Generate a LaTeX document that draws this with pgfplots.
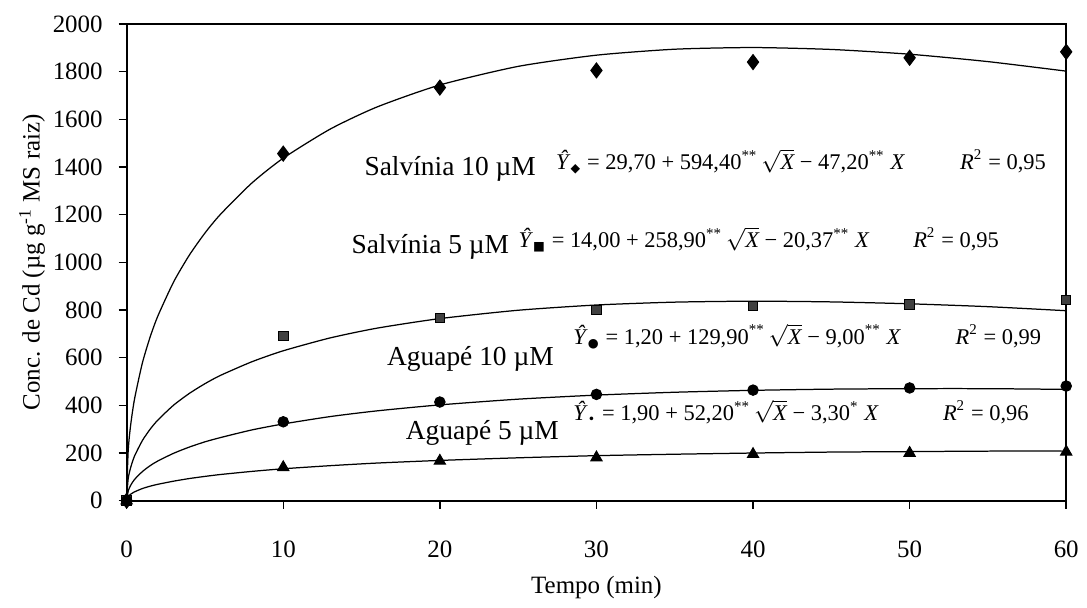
\documentclass[border=0pt]{standalone}
\usepackage{fontspec}
\setmainfont{Liberation Serif}
\newfontfamily\sym{DejaVu Sans}
\usepackage{pgfplots}
\pgfplotsset{compat=1.18}
\usepackage{pgfplotstable}

% measured points
\pgfplotstableread{
x  sa10  sa5  ag10  ag5
0  0     0    0     0
10 1456  690  331   140
20 1733  766  414   167
30 1805  799  446   181
40 1840  816  464   195
50 1858  824  473   200
60 1883  841  481   205
}\pts

% fitted curves
\pgfplotstableread{
x    sa10   sa5    ag10   ag5
0    30     14     1      2
0.1  213    94     41     18
0.25 315    138    64     27
0.5  426    187    89     37
1    577    252    122    51
1.5  687    300    147    61
2    776    339    167    69
3    918    401    199    82
4    1030   450    225    93
5    1123   491    247    102
6    1202   526    265    110
8    1333   583    297    123
10   1437   629    322    134
13   1559   683    353    147
16   1652   724    377    158
20   1744   764    402    169
25   1822   799    426    180
30   1869   821    443    189
35   1894   833    455    195
40   1901   837    463    200
45   1893   834    468    204
50   1873   826    470    206
55   1842   814    470    208
60   1802   797    467    208
}\fit

\newcommand{\Yh}[1]{\textit{Ŷ}\textsubscript{\sym\tiny #1}}
\newcommand{\rt}{$\sqrt{\textit{X}}$}
\newcommand{\st}[1]{\textsuperscript{#1}}

\begin{document}
\begin{tikzpicture}
\begin{axis}[
    scale only axis,
    width=376.8pt, height=191.2pt,
    xmin=0, xmax=60, ymin=0, ymax=2000,
    xtick={0,10,...,60}, ytick={0,200,...,2000},
    tick align=outside, tick pos=left,
    major tick length=3.2pt,
    axis line style={line width=0.8pt},
    tick style={line width=0.6pt, black},
    /pgf/number format/assume math mode=true,
    /pgf/number format/1000 sep={},
    ticklabel style={font=\normalsize},
    xticklabel style={yshift=-9.5pt},
    yticklabel style={xshift=-2.9pt},
    xlabel={Tempo (min)},
    ylabel={Conc. de Cd (µg g\textsuperscript{-1} MS raiz)},
    xlabel style={at={(axis description cs:0.5,0)}, anchor=center, yshift=-35pt},
    ylabel style={at={(axis description cs:-0.1008,0.5)}, anchor=center},
    clip mode=individual,
]
\addplot[black, line width=0.5pt, smooth, tension=0.4] table[x=x, y=sa10] {\fit};
\addplot[black, line width=0.5pt, smooth, tension=0.4] table[x=x, y=sa5] {\fit};
\addplot[black, line width=0.5pt, smooth, tension=0.4] table[x=x, y=ag10] {\fit};
\addplot[black, line width=0.5pt, smooth, tension=0.4] table[x=x, y=ag5] {\fit};

\addplot[only marks, mark=diamond*, mark size=3pt, black] table[x=x, y=sa10] {\pts};
\addplot[only marks, mark=square*, mark size=1.9pt, draw=black, fill=darkgray] table[x=x, y=sa5] {\pts};
\addplot[only marks, mark=*, mark size=2.1pt, black] table[x=x, y=ag10] {\pts};
\addplot[only marks, mark=triangle*, mark size=2.6pt, black] table[x=x, y=ag5] {\pts};

\begin{scope}[every node/.style={inner sep=0pt, anchor=west}]
\node[font=\fontsize{11}{13}\selectfont] at (axis cs:15.16,1393) {Salvínia 10 µM};
\node[font=\fontsize{9}{11}\selectfont] at (axis cs:27.4,1423) {\Yh{◆} = 29,70 + 594,40\st{**}\,\rt{} − 47,20\st{**} \textit{X}};
\node[font=\fontsize{9}{11}\selectfont] at (axis cs:53.2,1423) {\textit{R}\st{2} = 0,95};

\node[font=\fontsize{11}{13}\selectfont] at (axis cs:14.33,1063) {Salvínia 5 µM};
\node[font=\fontsize{9}{11}\selectfont] at (axis cs:25.0,1096) {\Yh{■} = 14,00 + 258,90\st{**}\,\rt{} − 20,37\st{**} \textit{X}};
\node[font=\fontsize{9}{11}\selectfont] at (axis cs:50.2,1096) {\textit{R}\st{2} = 0,95};

\node[font=\fontsize{9}{11}\selectfont] at (axis cs:28.5,690) {\Yh{●} = 1,20 + 129,90\st{**}\,\rt{} − 9,00\st{**} \textit{X}};
\node[font=\fontsize{9}{11}\selectfont] at (axis cs:52.9,690) {\textit{R}\st{2} = 0,99};
\node[font=\fontsize{11}{13}\selectfont] at (axis cs:16.6,594) {Aguapé 10 µM};

\node[font=\fontsize{9}{11}\selectfont] at (axis cs:28.5,372) {\Yh{•} = 1,90 + 52,20\st{**}\,\rt{} − 3,30\st{*} \textit{X}};
\node[font=\fontsize{9}{11}\selectfont] at (axis cs:52.1,372) {\textit{R}\st{2} = 0,96};
\node[font=\fontsize{11}{13}\selectfont] at (axis cs:17.8,285) {Aguapé 5 µM};
\end{scope}
\end{axis}
% page margins as in the reference
\path ([yshift=9.6pt]current axis.north west) ([xshift=7.2pt]current axis.east)
      ([yshift=-38.8pt]current axis.south) ([xshift=-50.8pt]current axis.west);
\end{tikzpicture}
\end{document}
